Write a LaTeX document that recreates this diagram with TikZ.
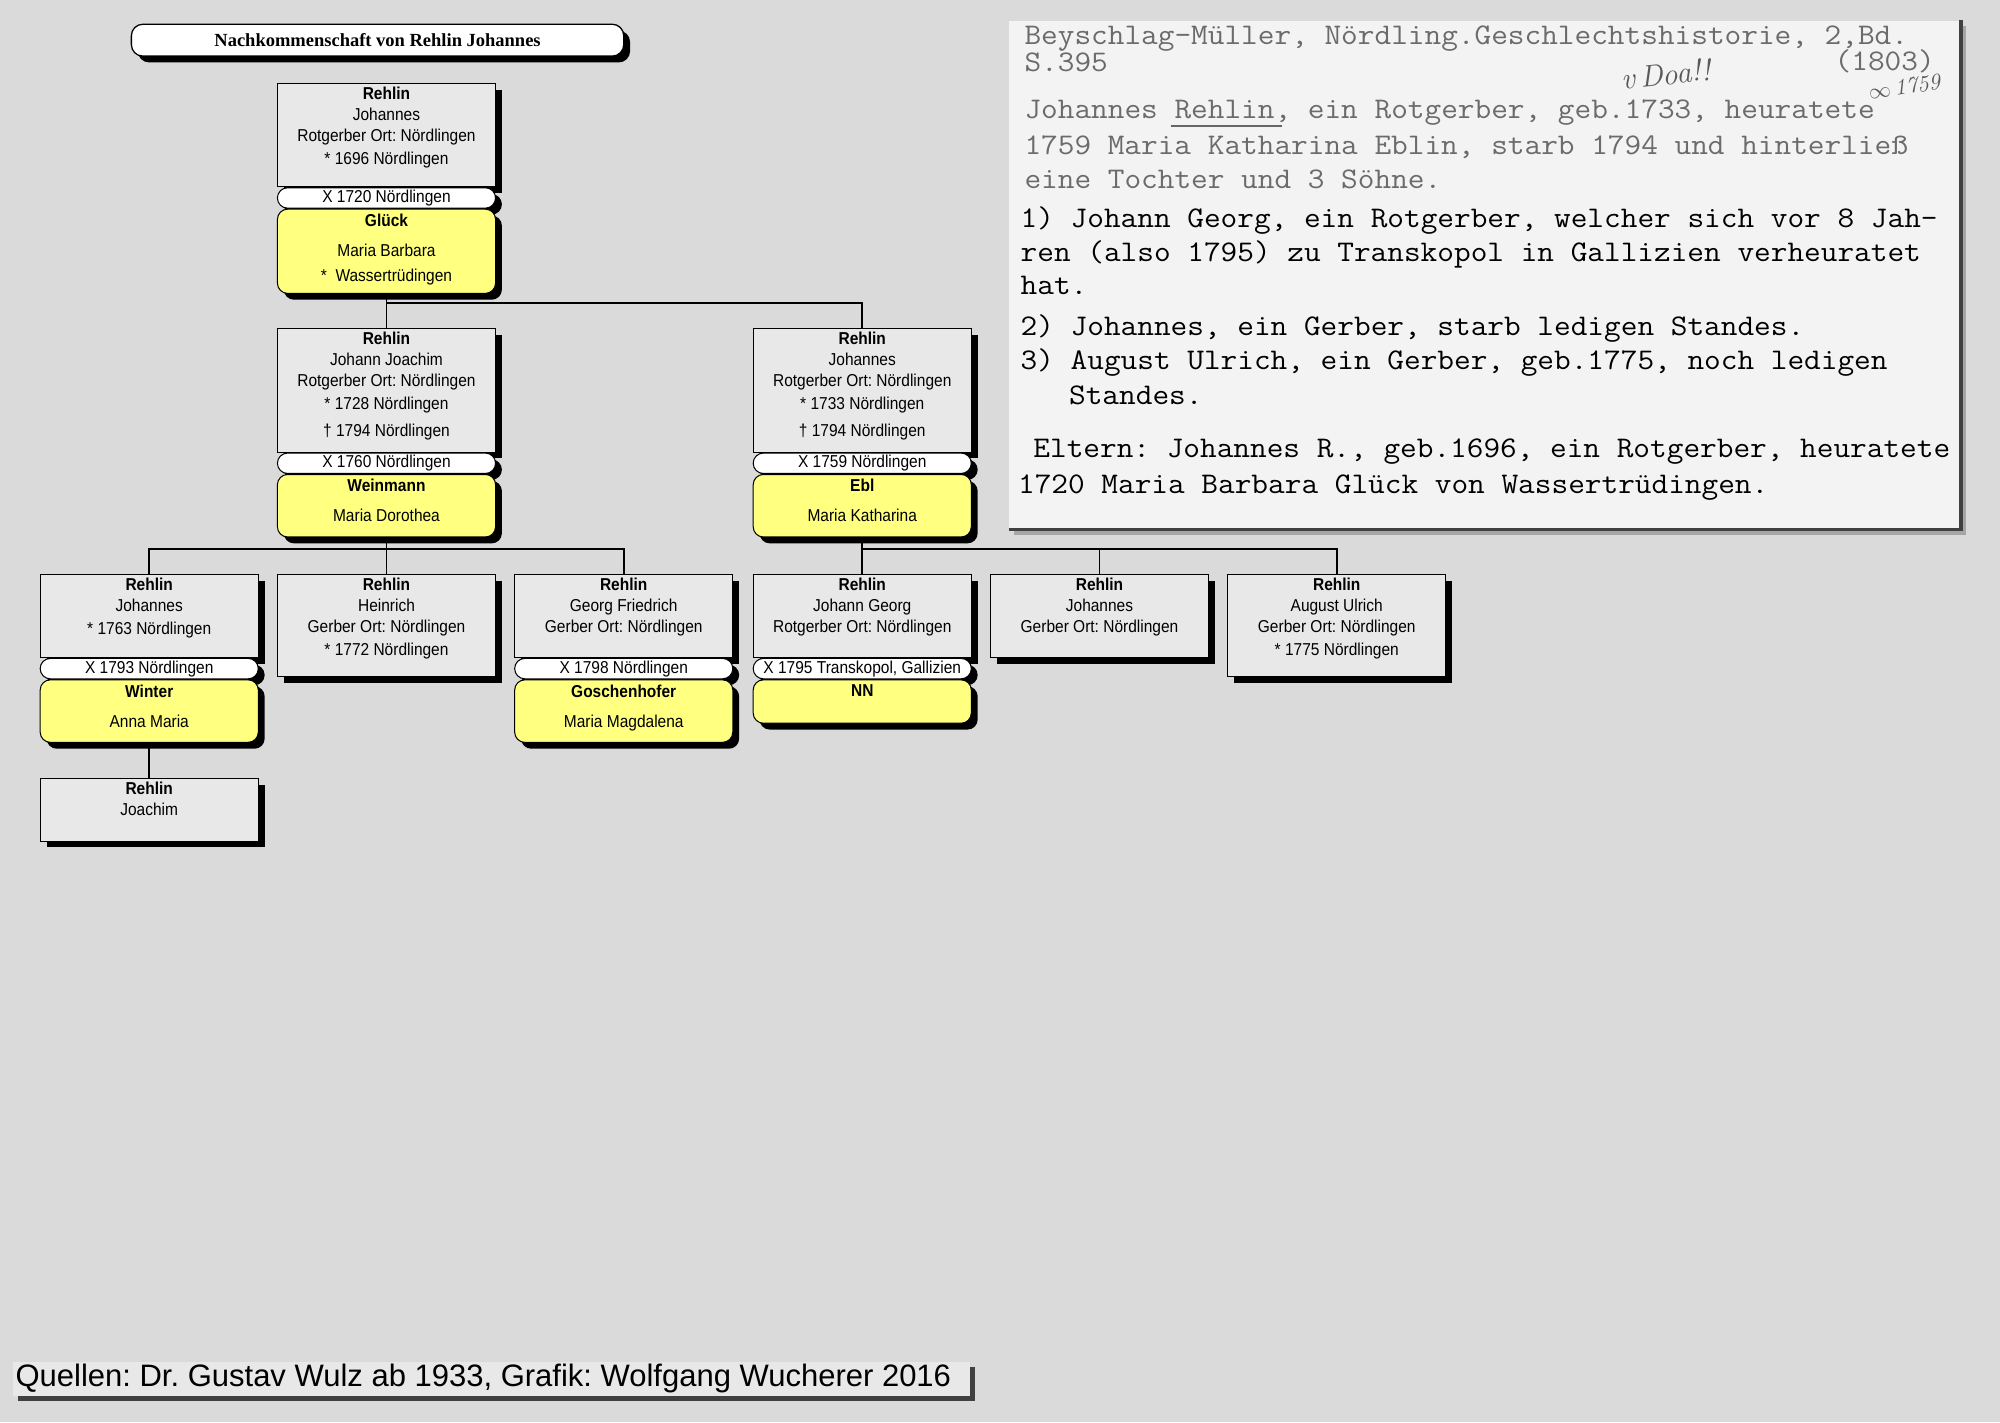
\documentclass[tikz,border=0pt]{standalone}
\usepackage{fontspec}
\setmainfont{Liberation Sans}
\newfontfamily\boxfont[FakeStretch=0.9]{Liberation Sans}
\newfontfamily\titlefont{Liberation Serif}
\newfontfamily\typefont[FakeStretch=1.08]{Latin Modern Mono}
\newfontfamily\handfont{Latin Modern Roman}
\usetikzlibrary{positioning,calc,shadows,shapes.misc}
\definecolor{bggray}{RGB}{218,218,218}
\definecolor{boxgray}{RGB}{232,232,232}
\definecolor{spouseyel}{RGB}{255,255,128}
\definecolor{paper}{RGB}{243,243,243}

\begin{document}
\frenchspacing
\begin{tikzpicture}[x=1pt,y=-1pt,
  shd/.style={general shadow={fill=black,shadow xshift=5pt,shadow yshift=-5pt}},
  pers/.style={draw=black,line width=0.8pt,fill=boxgray,minimum width=171pt,
               inner sep=0pt,anchor=north,shd},
  pill/.style={rounded rectangle,draw=black,line width=0.8pt,fill=white,
               minimum width=171pt,minimum height=16pt,inner sep=0pt,shd,
               font=\boxfont\fontsize{13.5}{16}\selectfont},
  spouse/.style={draw=black,line width=0.8pt,fill=spouseyel,rounded corners=8pt,
               minimum width=171pt,inner sep=0pt,shd},
  ptxt/.style={font=\boxfont\fontsize{13.5}{16.5}\selectfont,align=center,inner sep=0pt},
  conn/.style={line width=1.5pt,black},
  tw/.style={font=\typefont\fontsize{23.5}{26}\selectfont,anchor=base west,inner sep=0pt},
  twg/.style={tw,text=black!58},
  hand/.style={font=\handfont\itshape\fontsize{24}{24}\selectfont,text=black!65,inner sep=0pt}
]
\useasboundingbox (0,0) rectangle (1568,1115);
\fill[bggray] (0,0) rectangle (1568,1115);

% Titel
\node[draw=black,line width=1pt,fill=white,rounded corners=9pt,minimum width=386pt,
      minimum height=25pt,shd,font=\titlefont\bfseries\fontsize{14.5}{16}\selectfont]
      (ttl) at (296,31.5) {Nachkommenschaft von Rehlin Johannes};

% Stammvater
\node[pers,minimum height=81pt] (rj) at (303,65) {};
\node[ptxt,below=3pt of rj.north] {\textbf{Rehlin}\\Johannes\\Rotgerber Ort: Nördlingen\\[1.5pt]* 1696 Nördlingen};
\node[pill,below=0pt of rj] (rjx) {X 1720 Nördlingen};
\node[spouse,minimum height=66pt,below=0pt of rjx] (gl) {};
\node[ptxt,below=4pt of gl.north] {\textbf{Glück}\\[7pt]Maria Barbara\\[3.5pt]*\ \ Wassertrüdingen};

% Kinder
\node[pers,minimum height=97pt] (jj) at (303,257) {};
\node[ptxt,below=3pt of jj.north] {\textbf{Rehlin}\\Johann Joachim\\Rotgerber Ort: Nördlingen\\[1.5pt]* 1728 Nördlingen\\[4.5pt]† 1794 Nördlingen};
\node[pill,below=0pt of jj] (jjx) {X 1760 Nördlingen};
\node[spouse,minimum height=49pt,below=0pt of jjx] (we) {};
\node[ptxt,below=4pt of we.north] {\textbf{Weinmann}\\[7pt]Maria Dorothea};

\node[pers,minimum height=97pt] (jo) at (676,257) {};
\node[ptxt,below=3pt of jo.north] {\textbf{Rehlin}\\Johannes\\Rotgerber Ort: Nördlingen\\[1.5pt]* 1733 Nördlingen\\[4.5pt]† 1794 Nördlingen};
\node[pill,below=0pt of jo] (jox) {X 1759 Nördlingen};
\node[spouse,minimum height=49pt,below=0pt of jox] (eb) {};
\node[ptxt,below=4pt of eb.north] {\textbf{Ebl}\\[7pt]Maria Katharina};

% Enkel
\node[pers,minimum height=65pt] (jo3) at (117,450) {};
\node[ptxt,below=3pt of jo3.north] {\textbf{Rehlin}\\Johannes\\[1.5pt]* 1763 Nördlingen};
\node[pill,below=0pt of jo3] (jo3x) {X 1793 Nördlingen};
\node[spouse,minimum height=49pt,below=0pt of jo3x] (wi) {};
\node[ptxt,below=4pt of wi.north] {\textbf{Winter}\\[7pt]Anna Maria};

\node[pers,minimum height=80pt] (he) at (303,450) {};
\node[ptxt,below=3pt of he.north] {\textbf{Rehlin}\\Heinrich\\Gerber Ort: Nördlingen\\[1.5pt]* 1772 Nördlingen};

\node[pers,minimum height=65pt] (gf) at (489,450) {};
\node[ptxt,below=3pt of gf.north] {\textbf{Rehlin}\\Georg Friedrich\\Gerber Ort: Nördlingen};
\node[pill,below=0pt of gf] (gfx) {X 1798 Nördlingen};
\node[spouse,minimum height=49pt,below=0pt of gfx] (go) {};
\node[ptxt,below=4pt of go.north] {\textbf{Goschenhofer}\\[7pt]Maria Magdalena};

\node[pers,minimum height=65pt] (jg) at (676,450) {};
\node[ptxt,below=3pt of jg.north] {\textbf{Rehlin}\\Johann Georg\\Rotgerber Ort: Nördlingen};
\node[pill,below=0pt of jg] (jgx) {X 1795 Transkopol, Gallizien};
\node[spouse,minimum height=34pt,below=0pt of jgx] (nn) {};
\node[ptxt,below=4pt of nn.north] {\textbf{NN}};

\node[pers,minimum height=65pt] (jo4) at (862,450) {};
\node[ptxt,below=3pt of jo4.north] {\textbf{Rehlin}\\Johannes\\Gerber Ort: Nördlingen};

\node[pers,minimum height=80pt] (au) at (1048,450) {};
\node[ptxt,below=3pt of au.north] {\textbf{Rehlin}\\August Ulrich\\Gerber Ort: Nördlingen\\[1.5pt]* 1775 Nördlingen};

\node[pers,minimum height=49pt] (ja) at (117,610) {};
\node[ptxt,below=3pt of ja.north] {\textbf{Rehlin}\\Joachim};

% Linien
\draw[conn] (gl.south) -- (jj.north);
\draw[conn] ($(gl.south)+(0,7)$) -| (jo.north);
\draw[conn] (we.south) -- (he.north);
\draw[conn] (jo3.north) |- ($(we.south)+(0,9)$) -| (gf.north);
\draw[conn] (eb.south) -- (jg.north);
\draw[conn] (jo4.north) |- ($(eb.south)+(0,9)$) -| (au.north);
\draw[conn] (wi.south) -- (ja.north);

% Quelle (Abschrift)
\node[fill=paper,minimum width=746pt,minimum height=399pt,inner sep=0pt,anchor=north west,
      general shadow={fill=black!35,shadow xshift=4pt,shadow yshift=-4pt}] (scan) at (791,16) {};
\draw[black!75,line width=2.5pt] (scan.north east) -- (scan.south east) -- (scan.south west);
\node[twg] (s1) at (803,35) {Beyschlag-Müller, Nördling.Geschlechtshistorie, 2,Bd.};
\node[twg] (s2) at (803,56) {S.395};
\node[twg,anchor=base east] (s3) at (1517,55) {(1803)};
\node[hand,rotate=6] (h1) at (1306,58) {v\,Doa!!};
\node[hand,rotate=8,font=\handfont\itshape\fontsize{18}{18}\selectfont] (h2) at (1493,68) {$\infty$\,1759};
\node[twg] (s4) at (803,93) {Johannes Rehlin, ein Rotgerber, geb.1733, heuratete};
\draw[black!60,line width=1.6pt] (918,99) -- (1005,99);
\node[twg] (s5) at (803,121) {1759 Maria Katharina Eblin, starb 1794 und hinterließ};
\node[twg] (s6) at (803,148) {eine Tochter und 3 Söhne.};
\node[tw] (s7) at (800,178) {1) Johann Georg, ein Rotgerber, welcher sich vor 8 Jah-};
\node[tw] (s8) at (800,205) {ren (also 1795) zu Transkopol in Gallizien verheuratet};
\node[tw] (s9) at (800,231) {hat.};
\node[tw] (s10) at (800,263) {2) Johannes, ein Gerber, starb ledigen Standes.};
\node[tw] (s11) at (800,290) {3) August Ulrich, ein Gerber, geb.1775, noch ledigen};
\node[tw] (s12) at (838,317) {Standes.};
\node[tw] (s13) at (810,359) {Eltern: Johannes R., geb.1696, ein Rotgerber, heuratete};
\node[tw] (s14) at (798,387) {1720 Maria Barbara Glück von Wassertrüdingen.};

% Fusszeile
\node[fill=boxgray,minimum height=27pt,minimum width=750pt,inner sep=0pt,
      anchor=west,general shadow={fill=black!75,shadow xshift=4pt,shadow yshift=-4pt}]
      (src) at (10,1081) {};
\node[anchor=west,inner sep=0pt,font=\fontsize{24.3}{26}\selectfont] (srct) at (12,1081)
      {Quellen: Dr. Gustav Wulz ab 1933, Grafik: Wolfgang Wucherer 2016};
\end{tikzpicture}
\end{document}
